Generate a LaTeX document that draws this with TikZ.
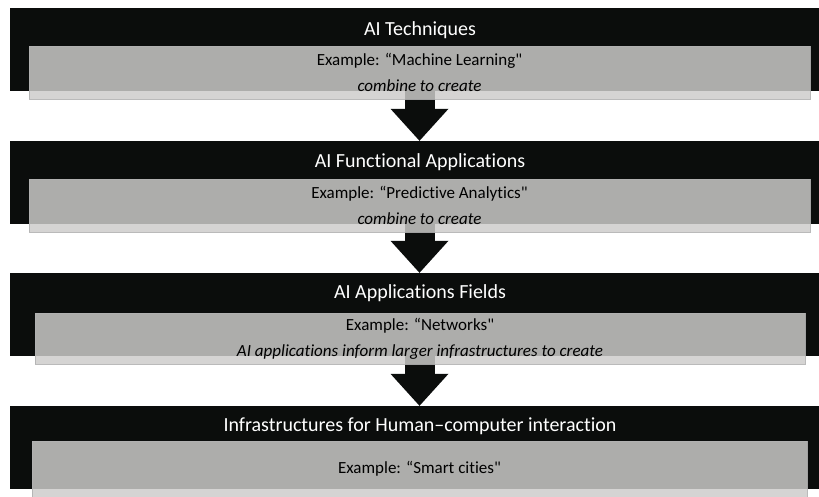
\documentclass[tikz,border=0pt]{standalone}
\usepackage{fontspec}
\setmainfont{Carlito}[Ligatures={TeXOff,NoCommon}]
\usetikzlibrary{arrows.meta}
\definecolor{barblack}{RGB}{11,13,12}
\definecolor{boxgray}{RGB}{205,204,202}
\begin{document}
\begin{tikzpicture}[
		x=1pt, y=-1pt,
		bar/.style={fill=barblack, inner sep=0pt, minimum width=809pt, minimum height=83pt},
		title/.style={text=white, anchor=base, font=\fontsize{20}{24}\selectfont},
		exbox/.style={fill=boxgray, fill opacity=0.84, text opacity=1, draw=white!70!black,
				draw opacity=0.9, line width=0.8pt, inner sep=0pt, align=center,
				font=\fontsize{17}{26}\selectfont},
		flow/.style={draw=barblack, line width=30pt,
				-{Triangle[length=32pt, width=58pt, line width=0pt]}}
	]
	\useasboundingbox (0,0) rectangle (819,496);
	% black bars
	\node[bar] (bar1) at (414.5,49.5) {};
	\node[bar] (bar2) at (414.5,182.5) {};
	\node[bar] (bar3) at (414.5,314.5) {};
	\node[bar] (bar4) at (414.5,447.5) {};
	% titles
	\node[title] (t1) at (420,35) {AI Techniques};
	\node[title] (t2) at (420,167.5) {AI Functional Applications};
	\node[title] (t3) at (420,298) {AI Applications Fields};
	\node[title] (t4) at (420,431.5) {Infrastructures for Human–computer interaction};
	% arrows
	\coordinate (a1) at (419.5,91);
	\draw[flow] (a1) -- (a1 |- bar2.north);
	\coordinate (a2) at (419.5,224);
	\draw[flow] (a2) -- (a2 |- bar3.north);
	\coordinate (a3) at (419.5,356);
	\draw[flow] (a3) -- (a3 |- bar4.north);
	% gray boxes
	\node[exbox, minimum width=781pt, minimum height=53pt] (ex1) at (419.5,72.5)
		{Example: “Machine Learning"\\ \textit{combine to create}};
	\node[exbox, minimum width=781pt, minimum height=53pt] (ex2) at (419.5,205.5)
		{Example: “Predictive Analytics"\\ \textit{combine to create}};
	\node[exbox, minimum width=770pt, minimum height=51pt] (ex3) at (420,338.5)
		{Example: “Networks"\\ \textit{AI applications inform larger infrastructures to create}};
	\node[exbox, minimum width=775pt, minimum height=56pt] (ex4) at (419.5,469)
		{Example: “Smart cities"};
\end{tikzpicture}
\end{document}
